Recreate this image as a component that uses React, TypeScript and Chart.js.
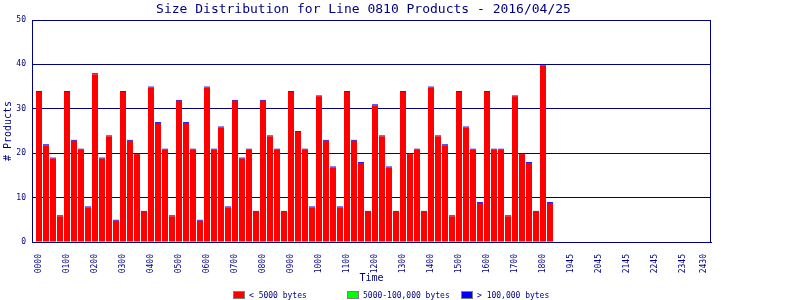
import { useEffect, useRef } from 'react';
import { Chart, registerables } from 'chart.js';

Chart.register(...registerables);

const NAVY = '#000080';
const MONO = '"DejaVu Sans Mono", "Liberation Mono", monospace';

const chartTitle = 'Size Distribution for Line 0810 Products - 2016/04/25';
const xTitle = 'Time';
const yTitle = '# Products';

const seriesNames = ['< 5000 bytes', '5000-100,000 bytes', '> 100,000 bytes'];
const seriesColors = ['#ff0000', '#00ff00', '#0000ff'];

// 15-minute slots starting at 0000 (slot index = position on the time axis)
const smallBytes = [
  33.8, 21.8, 18.8, 5.8, 33.8, 22.8, 20.8, 7.8, 37.8, 18.8, 23.8, 4.8,
  33.8, 22.8, 19.8, 6.8, 34.8, 26.8, 20.8, 5.8, 31.8, 26.8, 20.8, 4.8,
  34.8, 20.8, 25.8, 7.8, 31.8, 18.8, 20.8, 6.8, 31.8, 23.8, 20.8, 6.8,
  33.8, 24.8, 20.8, 7.8, 32.8, 22.8, 16.8, 7.8, 33.8, 22.8, 17.8, 6.8,
  30.8, 23.8, 16.8, 6.8, 33.8, 19.8, 20.8, 6.8, 34.8, 23.8, 21.8, 5.8,
  33.8, 25.8, 20.8, 8.8, 33.8, 20.8, 20.8, 5.8, 32.8, 19.8, 17.8, 6.8,
  39.8, 8.8,
];
const mediumBytes = [
  0, 0, 0, 0, 0, 0, 0, 0, 0, 0, 0, 0,
  0, 0, 0, 0, 0, 0, 0, 0, 0, 0, 0, 0,
  0, 0, 0, 0, 0, 0, 0, 0, 0, 0, 0, 0,
  0, 0, 0, 0, 0, 0, 0, 0, 0, 0, 0, 0,
  0, 0, 0, 0, 0, 0, 0, 0, 0, 0, 0, 0,
  0, 0, 0, 0, 0, 0, 0, 0, 0, 0, 0, 0,
  0, 0,
];
const largeBytes = [
  0.2, 0.2, 0.2, 0.2, 0.2, 0.2, 0.2, 0.2, 0.2, 0.2, 0.2, 0.2,
  0.2, 0.2, 0.2, 0.2, 0.2, 0.2, 0.2, 0.2, 0.2, 0.2, 0.2, 0.2,
  0.2, 0.2, 0.2, 0.2, 0.2, 0.2, 0.2, 0.2, 0.2, 0.2, 0.2, 0.2,
  0.2, 0.2, 0.2, 0.2, 0.2, 0.2, 0.2, 0.2, 0.2, 0.2, 0.2, 0.2,
  0.2, 0.2, 0.2, 0.2, 0.2, 0.2, 0.2, 0.2, 0.2, 0.2, 0.2, 0.2,
  0.2, 0.2, 0.2, 0.2, 0.2, 0.2, 0.2, 0.2, 0.2, 0.2, 0.2, 0.2,
  0.2, 0.2,
];

const tickSlots = [0, 4, 8, 12, 16, 20, 24, 28, 32, 36, 40, 44, 48, 52, 56, 60, 64, 68, 72, 76, 80, 84, 88, 92, 95];
const tickLabels = [
  '0000', '0100', '0200', '0300', '0400', '0500', '0600', '0700', '0800', '0900',
  '1000', '1100', '1200', '1300', '1400', '1500', '1600', '1700', '1800',
  '1945', '2045', '2145', '2245', '2345', '2430',
];
const yTicks = [0, 10, 20, 30, 40, 50];

const framePlugin = {
  id: 'frame',
  afterDatasetsDraw(chart: any) {
    const { ctx, chartArea: a } = chart;
    ctx.save();
    ctx.strokeStyle = NAVY;
    ctx.lineWidth = 1;
    const l = Math.round(a.left);
    const t = Math.round(a.top) + 0.5;
    const r = Math.round(a.right) - 0.5;
    const b = Math.round(a.bottom);
    ctx.beginPath();
    ctx.moveTo(l, t);
    ctx.lineTo(r, t);
    ctx.lineTo(r, b);
    ctx.stroke();
    ctx.restore();
  },
};

const titlePlugin = {
  id: 'fixedTitle',
  afterDraw(chart: any) {
    const { ctx } = chart;
    ctx.save();
    ctx.font = '13px ' + MONO;
    ctx.fillStyle = NAVY;
    ctx.textAlign = 'center';
    ctx.textBaseline = 'alphabetic';
    ctx.fillText(chartTitle, 363.5, 13);
    ctx.restore();
  },
};

const legendPlugin = {
  id: 'fixedLegend',
  afterDraw(chart: any) {
    const { ctx } = chart;
    ctx.save();
    ctx.font = '8px ' + MONO;
    ctx.textBaseline = 'middle';
    ctx.textAlign = 'left';
    chart.data.datasets.forEach((ds: any, i: number) => {
      const x = 233 + 114 * i;
      const y = 291;
      ctx.fillStyle = ds.backgroundColor;
      ctx.fillRect(x, y, 12, 8);
      ctx.strokeStyle = '#808080';
      ctx.lineWidth = 1;
      ctx.strokeRect(x + 0.5, y + 0.5, 11, 7);
      ctx.fillStyle = NAVY;
      ctx.fillText(ds.label, x + 16, y + 4.5);
    });
    ctx.restore();
  },
};

export default function App() {
  const ref = useRef<HTMLCanvasElement | null>(null);

  useEffect(() => {
    document.body.style.margin = '0';
    const canvas = ref.current;
    if (!canvas) return;
    const seriesData = [smallBytes, mediumBytes, largeBytes];
    const chart = new Chart(canvas, {
      type: 'bar',
      data: {
        datasets: seriesData.map((vals, si) => ({
          label: seriesNames[si],
          data: vals.map((v, i) => ({ x: i, y: v })),
          backgroundColor: seriesColors[si],
          borderWidth: 0,
          inflateAmount: 0,
          barThickness: 6,
        })),
      },
      options: {
        animation: false,
        responsive: false,
        devicePixelRatio: 1,
        layout: { padding: { left: 0, right: 89, top: 20, bottom: 0 } },
        plugins: {
          legend: { display: false },
          tooltip: { enabled: false },
          title: { display: false },
        },
        scales: {
          x: {
            type: 'linear',
            stacked: true,
            offset: false,
            min: -1,
            max: 96,
            grid: { display: false, offset: false },
            border: { display: true, color: NAVY },
            afterBuildTicks: (axis: any) => {
              axis.ticks = tickSlots.map((v) => ({ value: v }));
            },
            afterFit: (axis: any) => {
              axis.height = 58;
            },
            ticks: {
              autoSkip: false,
              minRotation: 90,
              maxRotation: 90,
              padding: 4,
              color: NAVY,
              font: { family: MONO, size: 8 },
              callback: (value: any) => {
                const idx = tickSlots.indexOf(Number(value));
                return idx >= 0 ? tickLabels[idx] : '';
              },
            },
            title: {
              display: true,
              text: xTitle,
              color: NAVY,
              font: { family: MONO, size: 10 },
              padding: { top: 0, bottom: 16 },
            },
          },
          y: {
            stacked: true,
            min: 0,
            max: 50,
            afterBuildTicks: (axis: any) => {
              axis.ticks = yTicks.map((v) => ({ value: v }));
            },
            afterFit: (axis: any) => {
              axis.width = 32;
            },
            grid: { color: NAVY, lineWidth: 1, drawTicks: false },
            border: { display: true, color: NAVY },
            ticks: {
              padding: 6,
              color: NAVY,
              font: { family: MONO, size: 8 },
            },
            title: {
              display: true,
              text: yTitle,
              color: NAVY,
              font: { family: MONO, size: 10 },
              padding: { top: 2, bottom: 0 },
            },
          },
        },
      },
      plugins: [framePlugin, titlePlugin, legendPlugin],
    } as any);
    return () => chart.destroy();
  }, []);

  return (
    <div style={{ width: 800, height: 300 }}>
      <canvas ref={ref} width={800} height={300} style={{ display: 'block' }} />
    </div>
  );
}
